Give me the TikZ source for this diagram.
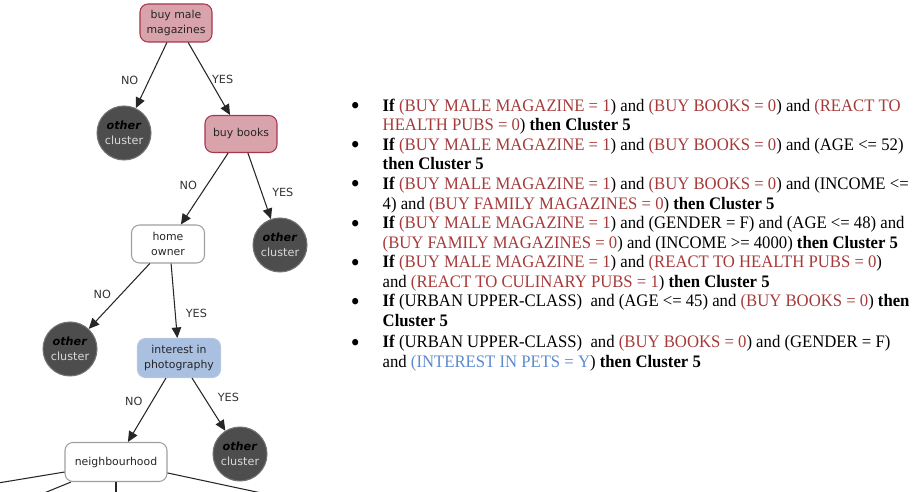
\documentclass[tikz,border=0pt]{standalone}
\usepackage{fontspec}
\setmainfont{Liberation Serif}
\newfontfamily\treefont{DejaVu Sans}
\usetikzlibrary{arrows.meta,calc}

\definecolor{bmmfill}{HTML}{D9A3AB}
\definecolor{bmmdraw}{HTML}{A8344F}
\definecolor{photofill}{HTML}{A9C0E1}
\definecolor{photodraw}{HTML}{B3C7E5}
\definecolor{clusterfill}{HTML}{4D4D4D}
\definecolor{clusterdraw}{HTML}{737373}
\definecolor{rulered}{HTML}{A63A3A}
\definecolor{ruleblue}{HTML}{5A8AD0}

% Bedingungen in den Regeln
\newcommand{\ifw}{\textbf{If}}
\newcommand{\thencl}{\textbf{then Cluster 5}}
\newcommand{\rcond}[1]{\textcolor{rulered}{(#1})}
\newcommand{\bcond}[1]{\textcolor{ruleblue}{(#1})}
\newcommand{\bul}{\raisebox{-0.3ex}{\scalebox{1.35}{\textbf{\textbullet}}}}

\tikzset{
  treebox/.style={rectangle, rounded corners=0.16cm, draw=gray!75, fill=white,
    line width=0.6pt, align=center, inner sep=0pt, text=black!85,
    font=\treefont\fontsize{6.2}{8.3}\selectfont},
  pinkbox/.style={treebox, fill=bmmfill, draw=bmmdraw},
  bluebox/.style={treebox, fill=photofill, draw=photodraw},
  othercl/.style={circle, minimum size=1.08cm, inner sep=0pt, fill=clusterfill,
    draw=clusterdraw, line width=0.6pt, align=center, text=gray!30,
    font=\treefont\fontsize{6.4}{8.3}\selectfont},
  arr/.style={-{Triangle[length=0.21cm,width=0.19cm]}, line width=0.6pt, black!85},
  lbl/.style={font=\treefont\fontsize{6.4}{7}\selectfont, text=black!80, inner sep=0pt},
}

\begin{document}
\begin{tikzpicture}[x=0.02cm,y=-0.02cm]

% ---------- Rahmen (915 x 492 px) ----------
\useasboundingbox (0,0) rectangle (915,492);
\clip (0,0) rectangle (915,492);

% ===================
% links: Entscheidungsbaum
% ===================
\node[pinkbox, minimum width=1.44cm, minimum height=0.76cm] (bmm) at (176,23) {buy male\\magazines};
\node[othercl] (oc1) at (124,133) {\textcolor{black}{\textbf{\textit{other}}}\\cluster};
\node[pinkbox, minimum width=1.44cm, minimum height=0.74cm] (books) at (241,134) {buy books};
\node[othercl] (oc2) at (280,245) {\textcolor{black}{\textbf{\textit{other}}}\\cluster};
\node[treebox, minimum width=1.46cm, minimum height=0.76cm] (home) at (168,244) {home\\owner};
\node[othercl] (oc3) at (70,349) {\textcolor{black}{\textbf{\textit{other}}}\\cluster};
\node[bluebox, minimum width=1.66cm, minimum height=0.78cm] (photo) at (179,358) {interest in\\photography};
\node[othercl] (oc4) at (240,454) {\textcolor{black}{\textbf{\textit{other}}}\\cluster};
\node[treebox, minimum width=2.04cm, minimum height=0.78cm] (hood) at (116,462) {neighbourhood};

\draw[arr] (bmm.-115) -- node[lbl, pos=0.58, left=0.2cm] {NO} (oc1);
\draw[arr] (bmm.-58) -- node[lbl, pos=0.51, right=0.04cm] {YES} (books);
\draw[arr] (books.-124) -- node[lbl, pos=0.46, left=0.18cm] {NO} (home);
\draw[arr] (books.-70) -- node[lbl, pos=0.6, right=0.2cm] {YES} (oc2);
\draw[arr] (home.-133) -- node[lbl, pos=0.48, left=0.18cm] {NO} (oc3);
\draw[arr] (home.-81) -- node[lbl, pos=0.67, right=0.2cm] {YES} (photo);
\draw[arr] (photo.-123) -- node[lbl, pos=0.37, left=0.18cm] {NO} (hood);
\draw[arr] (photo.-57) -- node[lbl, pos=0.37, right=0.26cm] {YES} (oc4);

% weitere Aeste (abgeschnitten)
\coordinate (cut1) at (-20,486);
\coordinate (cut2) at (27,500);
\coordinate (cut3) at (116,500);
\coordinate (cut4) at (294,500);
\draw[line width=0.6pt, black!85] (hood.191) -- (cut1);
\draw[line width=0.6pt, black!85] (hood.204) -- (cut2);
\draw[line width=0.6pt, black!85] (hood.south) -- (cut3);
\draw[line width=0.6pt, black!85] (hood.-12) -- (cut4);

% ===================
% rechts: Regeln fuer Cluster 5
% ===================
\node[anchor=north west, inner sep=0pt, font=\fontsize{10}{11.15}\selectfont] (rules) at (351,97) {%
\scalebox{0.95}[1]{%
\begin{tabular}{@{}p{0.66cm}@{}l@{}}
\bul & \ifw\ \rcond{BUY MALE MAGAZINE = 1} and \rcond{BUY BOOKS = 0} and \textcolor{rulered}{(REACT TO}\\
 & \textcolor{rulered}{HEALTH PUBS = 0}) \thencl\\
\bul & \ifw\ \rcond{BUY MALE MAGAZINE = 1} and \rcond{BUY BOOKS = 0} and (AGE <= 52)\\
 & \thencl\\
\bul & \ifw\ \rcond{BUY MALE MAGAZINE = 1} and \rcond{BUY BOOKS = 0} and (INCOME <=\\
 & 4) and \rcond{BUY FAMILY MAGAZINES = 0} \thencl\\
\bul & \ifw\ \rcond{BUY MALE MAGAZINE = 1} and (GENDER = F) and (AGE <= 48) and\\
 & \rcond{BUY FAMILY MAGAZINES = 0} and (INCOME >= 4000) \thencl\\
\bul & \ifw\ \rcond{BUY MALE MAGAZINE = 1} and \rcond{REACT TO HEALTH PUBS = 0}\\
 & and \rcond{REACT TO CULINARY PUBS = 1} \thencl\\
\bul & \ifw\ (URBAN UPPER-CLASS) \ and (AGE <= 45) and \rcond{BUY BOOKS = 0} \textbf{then}\\
 & \textbf{Cluster 5}\\[1pt]
\bul & \ifw\ (URBAN UPPER-CLASS) \ and \rcond{BUY BOOKS = 0} and (GENDER = F)\\
 & and \bcond{INTEREST IN PETS = Y} \thencl
\end{tabular}}};

\end{tikzpicture}
\end{document}
